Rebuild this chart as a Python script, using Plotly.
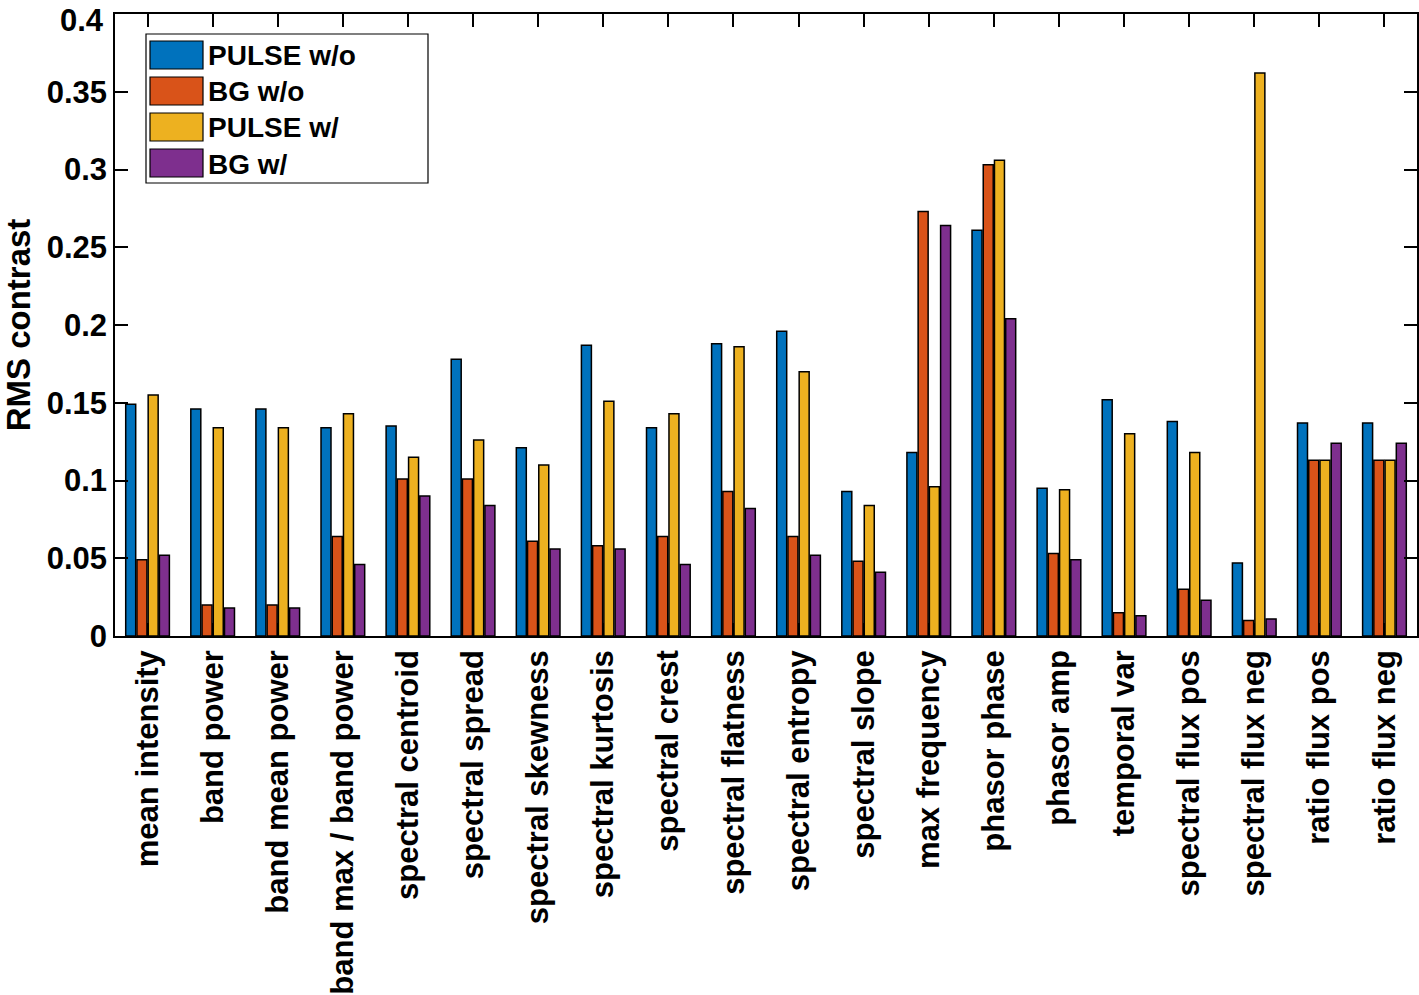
import plotly.graph_objects as go

categories = ["mean intensity", "band power", "band mean power", "band max / band power",
              "spectral centroid", "spectral spread", "spectral skewness", "spectral kurtosis",
              "spectral crest", "spectral flatness", "spectral entropy", "spectral slope",
              "max frequency", "phasor phase", "phasor amp", "temporal var",
              "spectral flux pos", "spectral flux neg", "ratio flux pos", "ratio flux neg"]

pulse_wo = [0.149, 0.146, 0.146, 0.134, 0.135, 0.178, 0.121, 0.187, 0.134, 0.188,
            0.196, 0.093, 0.118, 0.261, 0.095, 0.152, 0.138, 0.047, 0.137, 0.137]
bg_wo = [0.049, 0.020, 0.020, 0.064, 0.101, 0.101, 0.061, 0.058, 0.064, 0.093,
         0.064, 0.048, 0.273, 0.303, 0.053, 0.015, 0.030, 0.010, 0.113, 0.113]
pulse_w = [0.155, 0.134, 0.134, 0.143, 0.115, 0.126, 0.110, 0.151, 0.143, 0.186,
           0.170, 0.084, 0.096, 0.306, 0.094, 0.130, 0.118, 0.362, 0.113, 0.113]
bg_w = [0.052, 0.018, 0.018, 0.046, 0.090, 0.084, 0.056, 0.056, 0.046, 0.082,
        0.052, 0.041, 0.264, 0.204, 0.049, 0.013, 0.023, 0.011, 0.124, 0.124]

series_names = ["PULSE w/o", "BG w/o", "PULSE w/", "BG w/"]
series_colors = ["#0072BD", "#D95319", "#EDB120", "#7E2F8E"]
series_values = [pulse_wo, bg_wo, pulse_w, bg_w]

ytick_vals = [0, 0.05, 0.1, 0.15, 0.2, 0.25, 0.3, 0.35, 0.4]
ytick_text = ["0", "0.05", "0.1", "0.15", "0.2", "0.25", "0.3", "0.35", "0.4"]

W, H = 1419, 995
ML, MR, MT, MB = 115, 2, 14, 359
PW, PH = W - ML - MR, H - MT - MB


def px_x(p):
    return (p - ML) / PW


def px_y(p):
    return (H - MB - p) / PH


fig = go.Figure()
for name, color, vals in zip(series_names, series_colors, series_values):
    fig.add_trace(go.Bar(x=categories, y=vals, name=name, showlegend=False,
                         marker=dict(color=color, line=dict(color="black", width=1.5))))

font_family = "Liberation Sans, Arial, Helvetica, sans-serif"

# legend drawn as decoration (box, swatches, labels)
shapes = [dict(type="rect", xref="paper", yref="paper",
               x0=px_x(146), x1=px_x(428), y0=px_y(183), y1=px_y(34),
               line=dict(color="black", width=1.2), fillcolor="white", layer="above")]
annotations = []
row_top = [41, 77, 113, 149]
for name, color, top in zip(series_names, series_colors, row_top):
    shapes.append(dict(type="rect", xref="paper", yref="paper",
                       x0=px_x(150), x1=px_x(203), y0=px_y(top + 28), y1=px_y(top),
                       line=dict(color="black", width=1.2), fillcolor=color, layer="above"))
    annotations.append(dict(xref="paper", yref="paper", x=px_x(206), y=px_y(top + 15),
                            xanchor="left", yanchor="middle", showarrow=False, text=name,
                            font=dict(size=28, weight="bold", color="black")))

# the topmost tick label is nudged down (as in the reference) so it stays inside the page
shown_text = ytick_text[:-1] + [""]
annotations.append(dict(xref="paper", yref="y", x=px_x(106), y=ytick_vals[-1],
                        xanchor="right", yanchor="middle", yshift=-6, showarrow=False,
                        text=ytick_text[-1], font=dict(size=31, weight="bold", color="black")))

fig.update_layout(
    width=W, height=H,
    margin=dict(l=ML, r=MR, t=MT, b=MB, autoexpand=False),
    paper_bgcolor="white", plot_bgcolor="white",
    barmode="group", bargap=0.31, bargroupgap=0.11,
    font=dict(family=font_family, size=31, color="black", weight="bold"),
    showlegend=False,
    shapes=shapes, annotations=annotations,
)
fig.update_xaxes(
    type="category", range=[-0.5, 19.5], automargin=False,
    showline=True, linecolor="black", linewidth=1.5, mirror="ticks",
    ticks="inside", ticklen=13, tickcolor="black", tickwidth=1.5,
    tickangle=-90, tickfont=dict(size=31, weight="bold"),
    showgrid=False, zeroline=False,
)
fig.update_yaxes(
    range=[0, 0.4], tickvals=ytick_vals, ticktext=shown_text, automargin=False,
    showline=True, linecolor="black", linewidth=1.5, mirror="ticks",
    ticks="inside", ticklen=13, tickcolor="black", tickwidth=1.5,
    tickfont=dict(size=31, weight="bold"), ticklabeloverflow="allow",
    showgrid=False, zeroline=False,
    title=dict(text="RMS contrast", font=dict(size=33, weight="bold"), standoff=10),
)

fig.write_html("out.html",
               config={"displayModeBar": False},
               post_script="document.body.style.margin='0px';"
                           "document.body.style.overflow='hidden';")
